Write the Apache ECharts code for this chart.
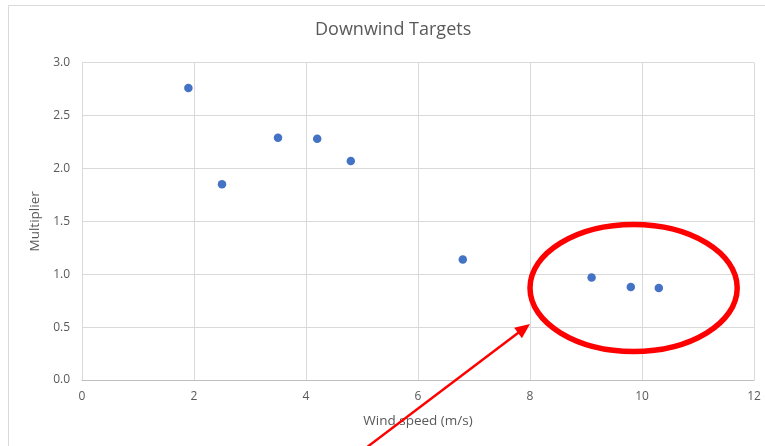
<!DOCTYPE html>
<html>
<head>
<meta charset="utf-8">
<style>
  html, body { margin: 0; padding: 0; background: #ffffff; }
  #chart { width: 765px; height: 446px; }
</style>
<script src="https://cdn.jsdelivr.net/npm/echarts@6/dist/echarts.min.js"></script>
</head>
<body>
<div id="chart"></div>
<script>
// Downwind target multipliers by wind speed
const windSpeed = [1.9, 2.5, 3.5, 4.2, 4.8, 6.8, 9.1, 9.8, 10.3];
const multiplier = [2.76, 1.85, 2.29, 2.28, 2.07, 1.14, 0.97, 0.88, 0.87];
const xTicks = [0, 2, 4, 6, 8, 10, 12];
const yTicks = [0, 0.5, 1.0, 1.5, 2.0, 2.5, 3.0];

// Highlight region (data units) and pointer line (data units)
const highlightCenter = [9.85, 0.87];
const highlightRadius = [1.85, 0.6];
const pointerFrom = [5.1, -0.63];
const pointerTo = [8.0, 0.53];

const FONT = '"Open Sans", "Liberation Sans", sans-serif';
const TEXT = '#595959';

const chart = echarts.init(document.getElementById('chart'), null, { renderer: 'canvas' });

const points = windSpeed.map((x, i) => [x, multiplier[i]]);

chart.setOption({
  backgroundColor: '#ffffff',
  animation: false,
  title: {
    text: 'Downwind Targets',
    left: 315,
    top: 21,
    padding: 0,
    textStyle: { fontFamily: FONT, fontSize: 18, fontWeight: 'normal', color: TEXT }
  },
  grid: { left: 82, right: 11, top: 62.7, bottom: 66 },
  xAxis: {
    type: 'value',
    min: xTicks[0],
    max: xTicks[xTicks.length - 1],
    interval: xTicks[1] - xTicks[0],
    name: 'Wind speed (m/s)',
    nameLocation: 'middle',
    nameGap: 34,
    nameTextStyle: { fontFamily: FONT, fontSize: 13.5, color: TEXT },
    axisLine: { show: true, lineStyle: { color: '#bfbfbf', width: 1 } },
    axisTick: { show: false },
    axisLabel: { fontFamily: FONT, fontSize: 12, color: TEXT, margin: 11 },
    splitLine: { show: true, lineStyle: { color: '#d9d9d9', width: 1 } }
  },
  yAxis: {
    type: 'value',
    min: yTicks[0],
    max: yTicks[yTicks.length - 1],
    interval: yTicks[1] - yTicks[0],
    name: 'Multiplier',
    nameLocation: 'middle',
    nameGap: 28,
    nameTextStyle: { fontFamily: FONT, fontSize: 13.5, color: TEXT },
    axisLine: { show: false },
    axisTick: { show: false },
    axisLabel: {
      fontFamily: FONT, fontSize: 12, color: TEXT, margin: 12,
      formatter: v => v.toFixed(1)
    },
    splitLine: { show: true, lineStyle: { color: '#d9d9d9', width: 1 } }
  },
  series: [{
    type: 'scatter',
    data: points,
    symbol: 'circle',
    symbolSize: 8.5,
    itemStyle: { color: '#4472c4', opacity: 1 }
  }]
});

// Annotation overlay: chart border, highlight ellipse and pointer arrow
const c = chart.convertToPixel({ gridIndex: 0 }, highlightCenter);
const edge = chart.convertToPixel({ gridIndex: 0 },
  [highlightCenter[0] + highlightRadius[0], highlightCenter[1] + highlightRadius[1]]);
const rx = edge[0] - c[0];
const ry = c[1] - edge[1];

const p0 = chart.convertToPixel({ gridIndex: 0 }, pointerFrom);
const p1 = chart.convertToPixel({ gridIndex: 0 }, pointerTo);
const dx = p1[0] - p0[0], dy = p1[1] - p0[1];
const len = Math.sqrt(dx * dx + dy * dy);
const ux = dx / len, uy = dy / len;
const headLen = 15, headHalf = 6.5;
const base = [p1[0] - ux * headLen, p1[1] - uy * headLen];
const head = [
  [p1[0], p1[1]],
  [base[0] - uy * headHalf, base[1] + ux * headHalf],
  [base[0] + uy * headHalf, base[1] - ux * headHalf]
];

chart.setOption({
  graphic: [
    {
      type: 'rect', silent: true, z: -10,
      shape: { x: 8.5, y: 5.5, width: 900, height: 600 },
      style: { fill: 'none', stroke: '#d9d9d9', lineWidth: 1 }
    },
    {
      type: 'ellipse', silent: true, z: 100,
      shape: { cx: c[0], cy: c[1], rx: rx, ry: ry },
      style: { fill: 'none', stroke: '#ff0000', lineWidth: 5.5 }
    },
    {
      type: 'line', silent: true, z: 100,
      shape: { x1: p0[0], y1: p0[1], x2: base[0] + ux * 2, y2: base[1] + uy * 2 },
      style: { stroke: '#ff0000', lineWidth: 2.5 }
    },
    {
      type: 'polygon', silent: true, z: 100,
      shape: { points: head },
      style: { fill: '#ff0000' }
    }
  ]
});
</script>
</body>
</html>
